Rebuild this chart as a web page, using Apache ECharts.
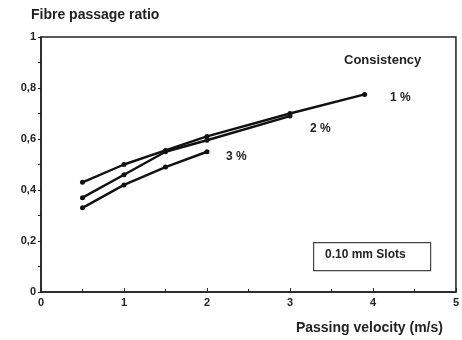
<!DOCTYPE html>
<html>
<head>
<meta charset="utf-8">
<script src="https://cdn.jsdelivr.net/npm/echarts@6/dist/echarts.min.js"></script>
<style>
html,body{margin:0;padding:0;background:#fff;}
#chart{width:462px;height:340px;}
</style>
</head>
<body>
<div id="chart"></div>
<script>
// Passing velocity (m/s) for each consistency curve
const velocity1 = [0.5, 1, 1.5, 2, 3, 3.9];
const velocity2 = [0.5, 1, 1.5, 2, 3];
const velocity3 = [0.5, 1, 1.5, 2];
// Fibre passage ratio
const ratio1 = [0.43, 0.50, 0.555, 0.61, 0.70, 0.775];
const ratio2 = [0.37, 0.46, 0.55, 0.595, 0.69];
const ratio3 = [0.33, 0.42, 0.49, 0.55];
const seriesNames = ['1 %', '2 %', '3 %'];
const yTickLabels = {0: '0', 0.2: '0,2', 0.4: '0,4', 0.6: '0,6', 0.8: '0,8', 1: '1'};

const FONT = 'Liberation Sans, Arial, sans-serif';
const zip = (xs, ys) => xs.map((x, i) => [x, ys[i]]);

const lineSeries = (name, xs, ys) => ({
  name, type: 'line', data: zip(xs, ys),
  symbol: 'circle', symbolSize: 5,
  lineStyle: {color: '#111', width: 2.4},
  itemStyle: {color: '#111'},
  silent: true, animation: false
});

const chart = echarts.init(document.getElementById('chart'));
chart.setOption({
  backgroundColor: '#fff',
  grid: {left: 41, right: 2, top: 37, bottom: 48, show: true, borderColor: '#222', borderWidth: 1.5},
  xAxis: {
    type: 'value', min: 0, max: 5, interval: 1,
    axisLine: {lineStyle: {color: '#222', width: 1.5}},
    axisTick: {inside: true, length: 4, lineStyle: {color: '#222'}},
    minorTick: {show: true, splitNumber: 2, length: 3, lineStyle: {color: '#222'}},
    splitLine: {show: false},
    axisLabel: {color: '#222', fontFamily: FONT, fontWeight: 'bold', fontSize: 11, margin: 5},
    name: 'Passing velocity (m/s)', nameLocation: 'end',
    nameTextStyle: {color: '#222', fontFamily: FONT, fontWeight: 'bold', fontSize: 14,
      align: 'right', verticalAlign: 'top', padding: [29, 28, 0, 0]}
  },
  yAxis: {
    type: 'value', min: 0, max: 1, interval: 0.2,
    axisLine: {lineStyle: {color: '#222', width: 1.5}},
    axisTick: {inside: false, length: 3, lineStyle: {color: '#222'}},
    minorTick: {show: true, splitNumber: 2, length: 3, lineStyle: {color: '#222'}},
    splitLine: {show: false},
    axisLabel: {color: '#222', fontFamily: FONT, fontWeight: 'bold', fontSize: 11, margin: 5,
      formatter: v => yTickLabels[Math.round(v * 10) / 10] ?? ''},
    name: 'Fibre passage ratio', nameLocation: 'end',
    nameTextStyle: {color: '#222', fontFamily: FONT, fontWeight: 'bold', fontSize: 14,
      align: 'left', verticalAlign: 'bottom', padding: [0, 0, 0, -10]}
  },
  series: [
    lineSeries(seriesNames[0], velocity1, ratio1),
    lineSeries(seriesNames[1], velocity2, ratio2),
    lineSeries(seriesNames[2], velocity3, ratio3)
  ],
  graphic: [
    {type: 'text', left: 344, top: 54, style: {text: 'Consistency', fill: '#222', font: 'bold 13px ' + FONT}},
    {type: 'text', left: 390, top: 92, style: {text: seriesNames[0], fill: '#222', font: 'bold 12px ' + FONT}},
    {type: 'text', left: 310, top: 123, style: {text: seriesNames[1], fill: '#222', font: 'bold 12px ' + FONT}},
    {type: 'text', left: 226, top: 151, style: {text: seriesNames[2], fill: '#222', font: 'bold 12px ' + FONT}},
    {type: 'rect', left: 313, top: 242, shape: {width: 117, height: 28},
      style: {fill: '#fff', stroke: '#444', lineWidth: 1.2}},
    {type: 'text', left: 325, top: 249, style: {text: '0.10 mm Slots', fill: '#222', font: 'bold 12px ' + FONT}}
  ]
});
</script>
</body>
</html>
